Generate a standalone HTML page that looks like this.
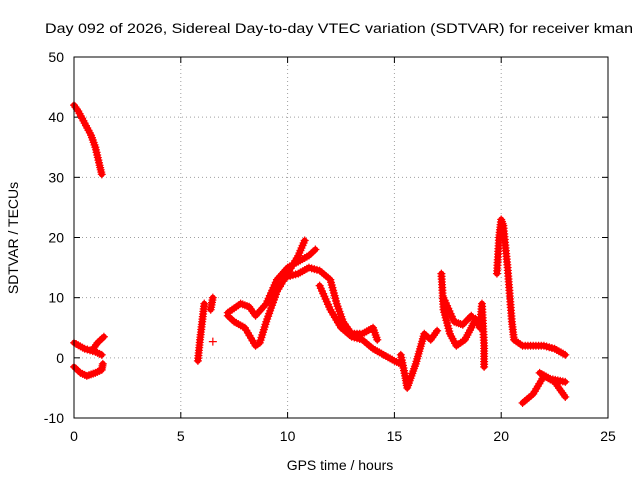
<!DOCTYPE html>
<html><head><meta charset="utf-8"><style>
body{margin:0;background:#fff;}
svg text{font-family:"Liberation Sans",sans-serif;font-size:14px;fill:#000;}
</style></head><body>
<svg id="chart" width="640" height="480" xmlns="http://www.w3.org/2000/svg">
<rect width="640" height="480" fill="#fff"/>
<text x="45" y="33" textLength="588" lengthAdjust="spacingAndGlyphs">Day 092 of 2026, Sidereal Day-to-day VTEC variation (SDTVAR) for receiver kman</text>
<text x="340" y="470" text-anchor="middle">GPS time / hours</text>
<text transform="translate(18,238) rotate(-90)" text-anchor="middle">SDTVAR / TECUs</text>
<g id="grid"></g><g id="ticks"></g><g id="marks"></g>
<rect x="74" y="57" width="534" height="361" fill="none" stroke="#000" stroke-width="1"/>
</svg>
<script>
const xTicks=[0,5,10,15,20,25];
const yTicks=[-10,0,10,20,30,40,50];
const traceA=[[0,42],[0.2,41],[0.5,39],[0.8,37],[1.0,35],[1.2,32],[1.3,30.5]];
const traceB=[[0,2.5],[0.5,1.5],[1.0,1],[1.3,0.5]];
const traceB2=[[0.9,1.5],[1.1,2.5],[1.4,3.5]];
const traceB3=[[0,-1.5],[0.3,-2.5],[0.6,-3],[1.0,-2.5],[1.3,-2],[1.35,-1]];
const traceC=[[5.8,-0.5],[5.9,3],[6.0,6],[6.1,9]];
const traceC2=[[6.4,8],[6.5,10]];
const traceC3=[[6.5,2.7]];
const traceD=[[7.2,7],[7.5,6],[8.0,5],[8.5,2],[8.7,2.5],[9.0,6],[9.5,11],[10.0,14],[10.5,17],[10.8,19.5]];
const traceD2=[[7.2,7.5],[7.8,9],[8.2,8.5],[8.5,7],[9.0,9],[9.5,13],[10.0,15],[10.5,16],[11,17],[11.3,18]];
const traceD3=[[10,13.5],[10.5,14],[11,15],[11.5,14.5],[12,13],[12.3,9],[12.6,6],[13,4],[13.5,4],[14,5],[14.2,3]];
const traceD4=[[11.5,12],[12,8],[12.5,5],[13,3.5],[13.5,3],[14,1.5],[14.5,0.5],[15,-0.5],[15.3,-1]];
const traceE=[[15.3,0.5],[15.5,-3],[15.6,-5],[15.8,-3],[16,-1],[16.2,1.5],[16.4,4],[16.7,3],[17,4.5]];
const traceF=[[17.2,14],[17.3,8],[17.6,4],[17.9,2],[18.3,3],[18.6,5],[18.8,6.5],[19,5],[19.1,9],[19.2,2],[19.2,-1.5]];
const traceF2=[[17.3,10],[17.8,6],[18.2,5.5],[18.6,7]];
const traceG=[[19.8,14],[19.9,20],[20.0,23],[20.1,22],[20.3,15],[20.5,6],[20.6,3],[21,2],[22,2],[22.5,1.5],[23,0.5]];
const traceH=[[21,-7.5],[21.5,-6],[22,-3],[22.5,-4],[23,-6.5]];
const traceH2=[[21.8,-2.5],[22.3,-3.5],[23,-4]];
const traces=[traceA,traceB,traceB2,traceB3,traceC,traceC2,traceC3,traceD,traceD2,traceD3,traceD4,traceE,traceF,traceF2,traceG,traceH,traceH2];

const X0=74,X1=608,Y0=418,Y1=57;
const xs=v=>X0+(v-0)/25*(X1-X0);
const ys=v=>Y0-(v+10)/60*(Y0-Y1);
const NS="http://www.w3.org/2000/svg";
const grid=document.getElementById('grid'),ticks=document.getElementById('ticks'),marks=document.getElementById('marks');
function mk(tag,attrs,parent){const e=document.createElementNS(NS,tag);for(const k in attrs)e.setAttribute(k,attrs[k]);parent.appendChild(e);return e;}
xTicks.forEach(t=>{
  const x=xs(t);
  if(t>0&&t<25){const g=mk('line',{x1:x,x2:x,y1:Y0,y2:Y1,stroke:'#a0a0a0','stroke-dasharray':'1,3'},grid);
  
  }
  mk('line',{x1:x,x2:x,y1:Y0,y2:Y0-6,stroke:'#000'},ticks);
  mk('line',{x1:x,x2:x,y1:Y1,y2:Y1+6,stroke:'#000'},ticks);
  const l=mk('text',{x:x,y:Y0+23,'text-anchor':'middle'},ticks);l.textContent=t;
  
  
});
yTicks.forEach(t=>{
  const y=ys(t);
  if(t>-10&&t<50){const g=mk('line',{x1:X0,x2:X1,y1:y,y2:y,stroke:'#a0a0a0','stroke-dasharray':'1,3'},grid);
  
  }
  mk('line',{x1:X0,x2:X0+6,y1:y,y2:y,stroke:'#000'},ticks);
  mk('line',{x1:X1,x2:X1-6,y1:y,y2:y,stroke:'#000'},ticks);
  const l=mk('text',{x:X0-10,y:y+5,'text-anchor':'end'},ticks);l.textContent=t;
  
  
});
traces.forEach(tr=>{
  const pts=tr.map(p=>xs(p[0])+','+ys(p[1])).join(' ');
  if(tr.length>1){const pl=mk('polyline',{points:pts,fill:'none',stroke:'#f00','stroke-width':6,'stroke-linejoin':'round','stroke-linecap':'round'},marks);
  
  }
  for(let i=0;i<tr.length;i++){
    const a=tr[i],b=tr[i+1]||tr[i];
    const ax=xs(a[0]),ay=ys(a[1]),bx=xs(b[0]),by=ys(b[1]);
    const n=Math.max(1,Math.ceil(Math.hypot(bx-ax,by-ay)/3));
    for(let k=0;k<n;k++){
      const px=ax+(bx-ax)*k/n,py=ay+(by-ay)*k/n;
      const m=mk('path',{d:`M${px-4},${py}h8M${px},${py-4}v8`,stroke:'#f00','stroke-width':1.2},marks);
      
      
    }
  }
});
</script>
</body></html>
